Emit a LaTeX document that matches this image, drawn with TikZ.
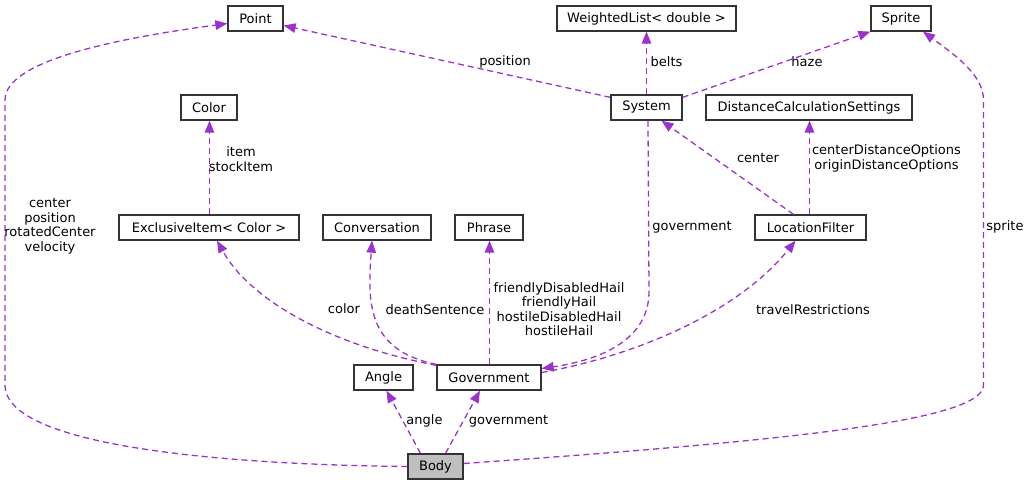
\documentclass[tikz,border=0pt]{standalone}
\usepackage{fontspec}
\setmainfont{DejaVu Sans}
\usetikzlibrary{arrows.meta}
\definecolor{edgec}{HTML}{9A32CD}
\definecolor{bodyfill}{HTML}{BFBFBF}
\tikzset{
  cls/.style={draw=black!80, line width=1.3pt, fill=white, minimum height=25pt, inner sep=0pt, font=\fontsize{13}{14.5}\selectfont},
  edge/.style={draw=edgec, line width=1.3pt, dash pattern=on 6pt off 4pt, -{Triangle[length=12pt,width=9.5pt]}},
  lbl/.style={font=\fontsize{13}{14.5}\selectfont, align=center, inner sep=0pt},
}
\begin{document}
\begin{tikzpicture}[x=1pt,y=-1pt]
\useasboundingbox (0,0) rectangle (1029,485);
% nodes
\node[cls, minimum width=55pt]  (point)  at (255.5,18.5) {Point};
\node[cls, minimum width=179pt] (wl)     at (646.5,18.5) {WeightedList< double >};
\node[cls, minimum width=60pt]  (sprite) at (901,18.5) {Sprite};
\node[cls, minimum width=56pt]  (color)  at (209,107.5) {Color};
\node[cls, minimum width=71pt]  (system) at (646.5,107.5) {System};
\node[cls, minimum width=206pt] (dcs)    at (809,107.5) {DistanceCalculationSettings};
\node[cls, minimum width=180pt] (exi)    at (209,227.5) {ExclusiveItem< Color >};
\node[cls, minimum width=108pt] (conv)   at (377,227.5) {Conversation};
\node[cls, minimum width=68pt]  (phrase) at (489,227.5) {Phrase};
\node[cls, minimum width=111pt] (lf)     at (810.5,227.5) {LocationFilter};
\node[cls, minimum width=59pt]  (angle)  at (383.5,377.5) {Angle};
\node[cls, minimum width=104pt] (gov)    at (489,377.5) {Government};
\node[cls, minimum width=55pt, fill=bodyfill] (body) at (435.5,466.5) {Body};

% edges
\draw[edge] (body.west) .. controls (250,465) and (5,450) .. (5,385) -- (5,100)
   .. controls (5,60) and (120,38) .. ([yshift=-5pt]point.west);
\draw[edge] ([yshift=-3pt]system.north west) -- ([yshift=-7pt]point.east);
\draw[edge] (system.north) -- (wl.south);
\draw[edge] ([yshift=-3pt]system.north east) -- (sprite.south west);
\draw[edge] ([xshift=0.5pt]exi.north) -- ([xshift=0.5pt]color.south);
\draw[edge] ([xshift=-17pt]lf.north) -- ([xshift=15pt]system.south);
\draw[edge] ([xshift=0.5pt]dcs.south |- lf.north) -- ([xshift=0.5pt]dcs.south);
\draw[edge] ([yshift=-1pt]gov.north west) .. controls (330,345) and (250,300) .. ([xshift=8pt]exi.south);
\draw[edge] (gov.north west) .. controls (365,350) and (368,300) .. ([xshift=-5pt]conv.south);
\draw[edge] ([xshift=0.5pt]gov.north) -- ([xshift=0.5pt]phrase.south);
\draw[edge] ([xshift=1.5pt]system.south) -- (649,290) .. controls (650,340) and (600,360) .. ([yshift=9pt]gov.east);
\draw[edge] ([yshift=5pt]gov.east) .. controls (640,355) and (740,310) .. ([xshift=-15pt]lf.south);
\draw[edge] ([xshift=-15pt]body.north) -- ([xshift=3pt]angle.south);
\draw[edge] ([xshift=10pt]body.north) -- ([xshift=-9pt]gov.south);
\draw[edge] ([yshift=3pt]body.east) .. controls (800,440) and (983.5,420) .. (983.5,385) -- (983.5,100)
   .. controls (983.5,75) and (955,55) .. ([xshift=22pt]sprite.south);

% labels
\node[lbl] (l1) at (50,226.5) {center\\position\\rotatedCenter\\velocity};
\node[lbl] (l2) at (505,62) {position};
\node[lbl] (l3) at (666.5,62) {belts};
\node[lbl] (l4) at (807,62) {haze};
\node[lbl] (l5) at (241,159) {item\\stockItem};
\node[lbl] (l6) at (758,158) {center};
\node[lbl] (l7) at (886.5,158.5) {centerDistanceOptions\\originDistanceOptions};
\node[lbl] (l8) at (344,309) {color};
\node[lbl] (l9) at (435,310) {deathSentence};
\node[lbl] (l10) at (559,309) {friendlyDisabledHail\\friendlyHail\\hostileDisabledHail\\hostileHail};
\node[lbl] (l11) at (692,227) {government};
\node[lbl] (l12) at (813,310) {travelRestrictions};
\node[lbl] (l13) at (424.5,421) {angle};
\node[lbl] (l14) at (508.5,421) {government};
\node[lbl] (l15) at (1005,227) {sprite};
\end{tikzpicture}
\end{document}
